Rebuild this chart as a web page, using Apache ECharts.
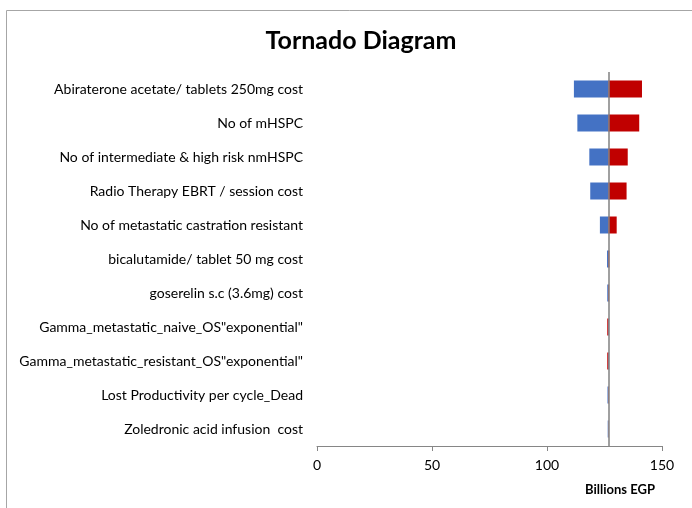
<!DOCTYPE html>
<html><head><meta charset="utf-8">
<script src="https://cdn.jsdelivr.net/npm/echarts@6/dist/echarts.min.js"></script>
<style>html,body{margin:0;padding:0;background:#fff}#c{width:692px;height:508px}</style>
</head><body><div id="c"></div>
<script>
const categories = [
  "Abiraterone acetate/ tablets 250mg cost",
  "No of mHSPC",
  "No of intermediate & high risk nmHSPC",
  "Radio Therapy EBRT / session cost",
  "No of metastatic castration resistant",
  "bicalutamide/ tablet 50 mg cost",
  "goserelin s.c (3.6mg) cost",
  "Gamma_metastatic_naive_OS\"exponential\"",
  "Gamma_metastatic_resistant_OS\"exponential\"",
  "Lost Productivity per cycle_Dead",
  "Zoledronic acid infusion  cost"
];
const baseValue = 126.7;
const lowValues  = [111.7, 113.2, 118.4, 118.8, 123.0, 126.1, 126.2, 127.0, 127.0, 126.3, 126.4];
const highValues = [141.3, 140.1, 135.1, 134.6, 130.3, 127.1, 127.0, 126.2, 126.2, 126.9, 126.6];
const xTicks = [0, 50, 100, 150];

const off = v => v.map(x => Math.min(x, baseValue));
const len = v => v.map(x => Math.abs(x - baseValue));

const chart = echarts.init(document.getElementById('c'));
const FONT = 'Lato';
chart.setOption({
  animation: false,
  textStyle: {fontFamily: FONT},
  title: {
    text: 'Tornado Diagram', left: 356, top: 23, textAlign: 'center',
    textStyle: {fontFamily: FONT, fontSize: 25, fontWeight: 'bold', color: '#000'}
  },
  graphic: [
    {type: 'rect', shape: {x: 6.5, y: 10.5, width: 720, height: 520},
     style: {fill: 'none', stroke: '#a6a6a6', lineWidth: 1}, silent: true},
    {type: 'text', left: 585, top: 483,
     style: {text: 'Billions EGP', fontFamily: FONT, fontSize: 13, fontWeight: 'bold', fill: '#000'}}
  ],
  grid: {left: 317, right: 30, top: 72, bottom: 62, containLabel: false},
  xAxis: {
    type: 'value', min: xTicks[0], max: xTicks[xTicks.length - 1], interval: 50,
    axisLine: {show: true, lineStyle: {color: '#868686'}},
    axisTick: {show: true, length: 5, lineStyle: {color: '#868686'}},
    axisLabel: {color: '#000', fontSize: 14, margin: 12, fontFamily: FONT},
    splitLine: {show: false}
  },
  yAxis: {
    type: 'category', data: categories, inverse: true,
    axisLine: {show: false}, axisTick: {show: false},
    axisLabel: {color: '#000', fontSize: 14, margin: 14, fontFamily: FONT}
  },
  series: [
    {type: 'bar', stack: 'low', data: off(lowValues), barWidth: 17,
     itemStyle: {color: 'transparent'}, silent: true},
    {type: 'bar', stack: 'low', data: len(lowValues), barWidth: 17,
     itemStyle: {color: '#4472C4'},
     markLine: {symbol: 'none', silent: true, label: {show: false},
       lineStyle: {color: '#808080', width: 1.5, type: 'solid'},
       data: [{xAxis: baseValue}]}},
    {type: 'bar', stack: 'high', data: off(highValues), barWidth: 17, barGap: '-100%',
     itemStyle: {color: 'transparent'}, silent: true},
    {type: 'bar', stack: 'high', data: len(highValues), barWidth: 17, barGap: '-100%',
     itemStyle: {color: '#C00000'}}
  ]
});
</script></body></html>
